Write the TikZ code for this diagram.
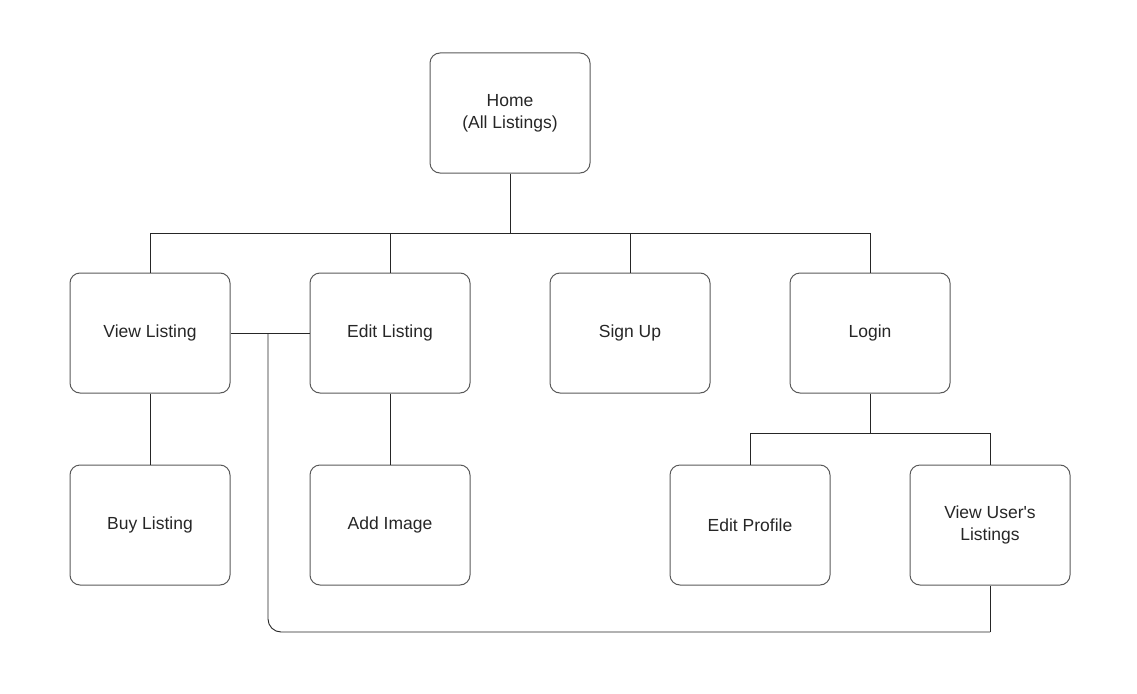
\documentclass[tikz,border=0pt]{standalone}
\usepackage{fontspec}
\setmainfont{Liberation Sans}
\begin{document}
\begin{tikzpicture}[x=1pt,y=-1pt,
  box/.style={draw=black!65,line width=1pt,rounded corners=10pt,minimum width=160pt,minimum height=120pt,inner sep=0pt,align=center,font=\fontsize{17.5}{22}\selectfont,text=black!85},
  conn/.style={draw=black!85,line width=0.9pt}]
\useasboundingbox (0,0) rectangle (1137,693);
\node[box] (home) at (510,113) {Home\\(All Listings)};
\node[box] (view) at (150,333) {View Listing};
\node[box] (edit) at (390,333) {Edit Listing};
\node[box] (sign) at (630,333) {Sign Up};
\node[box] (login) at (870,333) {Login};
\node[box] (buy) at (150,525) {Buy Listing};
\node[box] (img) at (390,525) {Add Image};
\node[box] (prof) at (750,525) {Edit Profile};
\node[box] (uvl) at (990,525) {View User\textquotesingle s\\Listings};
\coordinate (hb) at (510,233);
\coordinate (lb) at (870,433);
\coordinate (j) at (268,333);
\coordinate (br) at (990,632);
\draw[conn] (home.south) -- (hb);
\draw[conn] (view.north) |- (hb);
\draw[conn] (edit.north) |- (hb);
\draw[conn] (sign.north) |- (hb);
\draw[conn] (login.north) |- (hb);
\draw[conn] (view.east) -- (edit.west);
\draw[conn] (view.south) -- (buy.north);
\draw[conn] (edit.south) -- (img.north);
\draw[conn] (login.south) -- (lb);
\draw[conn] (prof.north) |- (lb);
\draw[conn] (uvl.north) |- (lb);
\draw[conn,rounded corners=13pt] (j) |- (br);
\draw[conn] (br) -- (uvl.south);
\end{tikzpicture}
\end{document}
